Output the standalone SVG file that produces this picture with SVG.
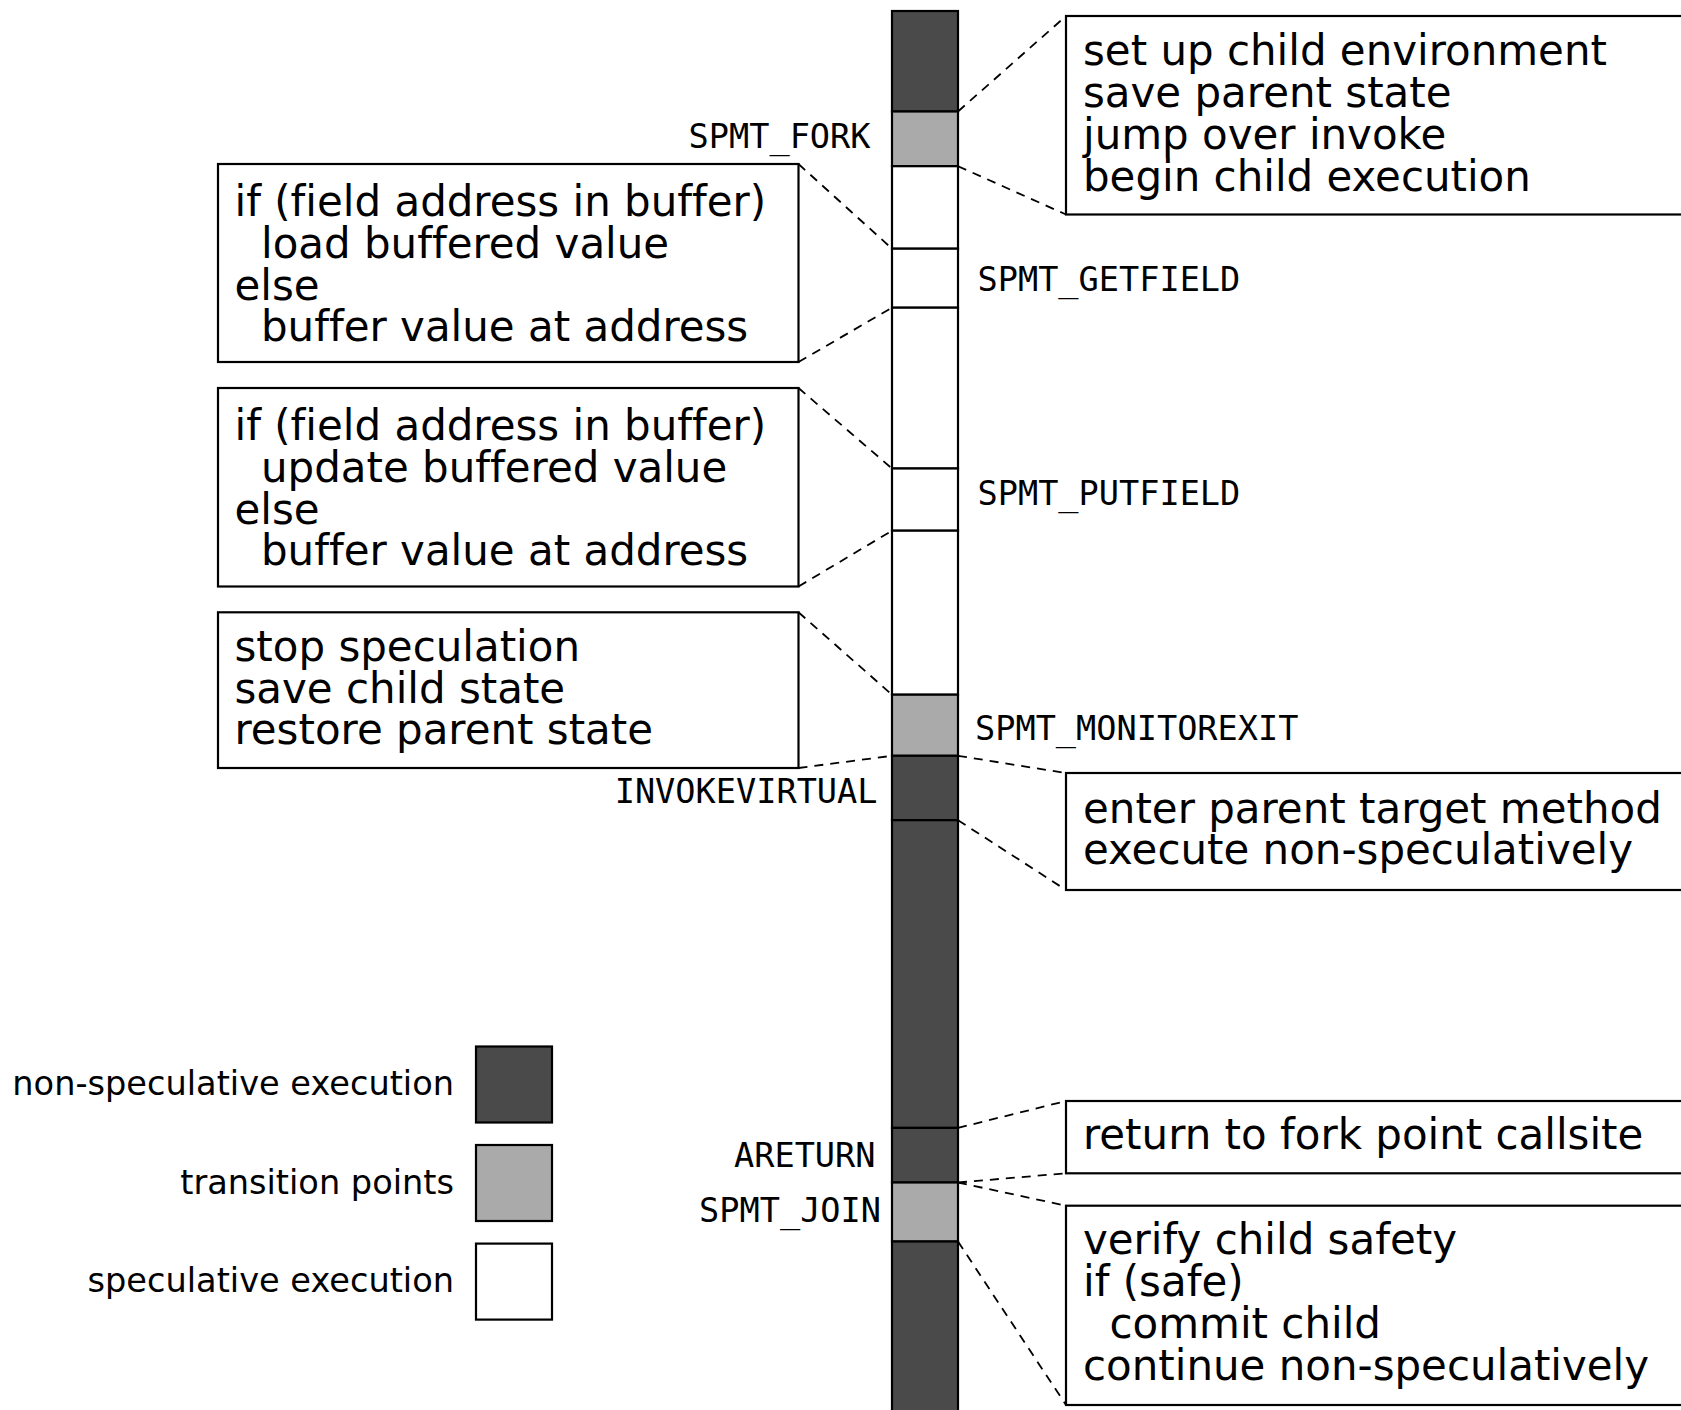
<svg xmlns="http://www.w3.org/2000/svg" width="1681" height="1410" viewBox="0 0 1681 1410">
<style>
.bg{fill:#ffffff}
.box{fill:#ffffff;stroke:#000;stroke-width:2.2}
.dark{fill:#4a4a4a;stroke:#000;stroke-width:2.2}
.gray{fill:#aaaaaa;stroke:#000;stroke-width:2.2}
.white{fill:#ffffff;stroke:#000;stroke-width:2.2}
text{font-variant-ligatures:none;font-feature-settings:"liga" 0,"clig" 0}
.t{font-family:"DejaVu Sans","Liberation Sans",sans-serif;font-size:41.95px;fill:#000}
.lg{font-family:"DejaVu Sans","Liberation Sans",sans-serif;font-size:33.6px;fill:#000;text-anchor:end}
.m{font-family:"DejaVu Sans Mono","Liberation Mono",monospace;font-size:33.6px;fill:#000}
.e{text-anchor:end}
.dash{fill:none;stroke:#000;stroke-width:1.8;stroke-dasharray:9,7}
</style>
<rect class="bg" x="0" y="0" width="1681" height="1410"/>

<g id="column">
<rect class="dark" x="892" y="11" width="66" height="100.5"/>
<rect class="gray" x="892" y="111.5" width="66" height="54.7"/>
<rect class="white" x="892" y="166.2" width="66" height="82.5"/>
<rect class="white" x="892" y="248.7" width="66" height="59"/>
<rect class="white" x="892" y="307.7" width="66" height="160.8"/>
<rect class="white" x="892" y="468.5" width="66" height="62.2"/>
<rect class="white" x="892" y="530.7" width="66" height="164"/>
<rect class="gray" x="892" y="694.7" width="66" height="61.1"/>
<rect class="dark" x="892" y="755.8" width="66" height="64.4"/>
<rect class="dark" x="892" y="820.2" width="66" height="307.7"/>
<rect class="dark" x="892" y="1127.9" width="66" height="54.6"/>
<rect class="gray" x="892" y="1182.5" width="66" height="59"/>
<rect class="dark" x="892" y="1241.5" width="66" height="190"/>
</g>

<g id="labels">
<text class="m e" x="870.5" y="147.7">SPMT_FORK</text>
<text class="m" x="977.5" y="291">SPMT_GETFIELD</text>
<text class="m" x="977.5" y="505">SPMT_PUTFIELD</text>
<text class="m" x="975" y="740">SPMT_MONITOREXIT</text>
<text class="m e" x="877.5" y="803">INVOKEVIRTUAL</text>
<text class="m e" x="875.5" y="1167">ARETURN</text>
<text class="m e" x="881" y="1222">SPMT_JOIN</text>
</g>

<g id="connectors">
<line class="dash" x1="958" y1="111.5" x2="1066" y2="16"/>
<line class="dash" x1="958" y1="166.2" x2="1066" y2="214.5"/>
<line class="dash" x1="798.5" y1="164" x2="892" y2="248.7"/>
<line class="dash" x1="798.5" y1="362" x2="892" y2="307.7"/>
<line class="dash" x1="798.5" y1="388" x2="892" y2="468.5"/>
<line class="dash" x1="798.5" y1="586.5" x2="892" y2="530.7"/>
<line class="dash" x1="798.5" y1="612.3" x2="892" y2="694.7"/>
<line class="dash" x1="798.5" y1="768" x2="892" y2="755.8"/>
<line class="dash" x1="958" y1="755.8" x2="1066" y2="773"/>
<line class="dash" x1="958" y1="820.2" x2="1066" y2="890"/>
<line class="dash" x1="958" y1="1127.9" x2="1066" y2="1101"/>
<line class="dash" x1="958" y1="1182.5" x2="1066" y2="1173.3"/>
<line class="dash" x1="958" y1="1182.5" x2="1066" y2="1205.7"/>
<line class="dash" x1="958" y1="1241.5" x2="1066" y2="1405"/>
</g>

<g id="box-fork">
<rect class="box" x="1066" y="16" width="640" height="198.5"/>
<text class="t"><tspan x="1083" y="65.3">set up child environment</tspan><tspan x="1083" y="107.1">save parent state</tspan><tspan x="1083" y="148.9">jump over invoke</tspan><tspan x="1083" y="190.7">begin child execution</tspan></text>
</g>

<g id="box-getfield">
<rect class="box" x="218" y="164" width="580.5" height="198"/>
<text class="t"><tspan x="234.5" y="216">if (field address in buffer)</tspan><tspan x="261" y="257.8">load buffered value</tspan><tspan x="234.5" y="299.6">else</tspan><tspan x="261" y="341.4">buffer value at address</tspan></text>
</g>

<g id="box-putfield">
<rect class="box" x="218" y="388" width="580.5" height="198.5"/>
<text class="t"><tspan x="234.5" y="440">if (field address in buffer)</tspan><tspan x="261" y="481.8">update buffered value</tspan><tspan x="234.5" y="523.6">else</tspan><tspan x="261" y="565.4">buffer value at address</tspan></text>
</g>

<g id="box-monitorexit">
<rect class="box" x="218" y="612.3" width="580.5" height="155.7"/>
<text class="t"><tspan x="234.5" y="661">stop speculation</tspan><tspan x="234.5" y="702.8">save child state</tspan><tspan x="234.5" y="744">restore parent state</tspan></text>
</g>

<g id="box-invoke">
<rect class="box" x="1066" y="773" width="640" height="117"/>
<text class="t"><tspan x="1083" y="822.5">enter parent target method</tspan><tspan x="1083" y="864.3">execute non-speculatively</tspan></text>
</g>

<g id="box-areturn">
<rect class="box" x="1066" y="1101" width="640" height="72.3"/>
<text class="t" x="1083" y="1149.3">return to fork point callsite</text>
</g>

<g id="box-join">
<rect class="box" x="1066" y="1205.7" width="640" height="199.3"/>
<text class="t"><tspan x="1083" y="1254.3">verify child safety</tspan><tspan x="1083" y="1296.1">if (safe)</tspan><tspan x="1109.5" y="1337.9">commit child</tspan><tspan x="1083" y="1379.7">continue non-speculatively</tspan></text>
</g>

<g id="legend">
<rect class="dark" x="476" y="1046.5" width="76" height="76"/>
<rect class="gray" x="476" y="1145" width="76" height="76"/>
<rect class="white" x="476" y="1243.6" width="76" height="76"/>
<text class="lg" x="454" y="1095">non-speculative execution</text>
<text class="lg" x="454" y="1194">transition points</text>
<text class="lg" x="454" y="1292">speculative execution</text>
</g>
</svg>
